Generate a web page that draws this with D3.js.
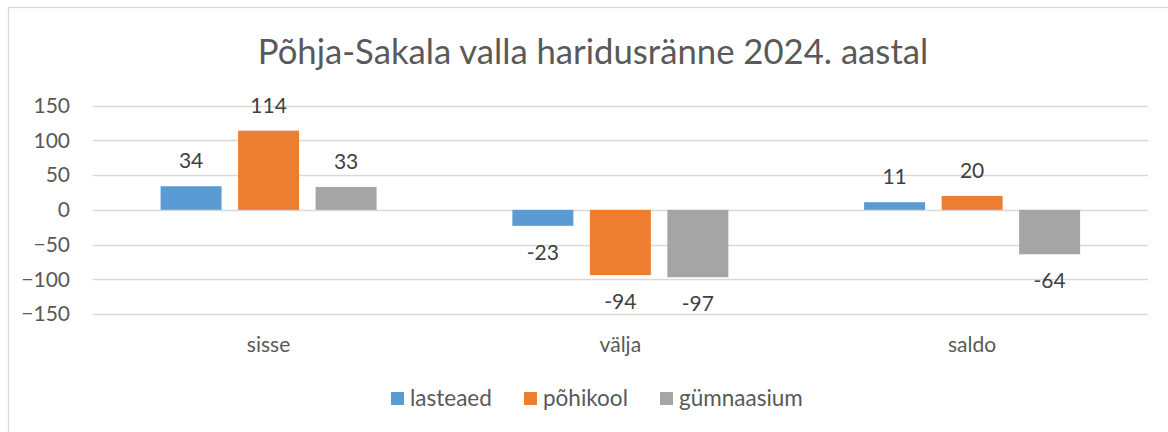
<!DOCTYPE html>
<html>
<head>
<meta charset="utf-8">
<script src="https://cdn.jsdelivr.net/npm/d3@7"></script>
<style>
  html, body { margin: 0; padding: 0; background: #fff; }
  svg { display: block; font-family: Lato, "Noto Sans", sans-serif; }
</style>
</head>
<body>
<div id="chart"></div>
<script>
  // andmed
  const categories = ["sisse", "välja", "saldo"];
  const series = ["lasteaed", "põhikool", "gümnaasium"];
  const lasteaed = [34, -23, 11];
  const pohikool = [114, -94, 20];
  const gymnaasium = [33, -97, -64];
  const yTicks = [150, 100, 50, 0, -50, -100, -150];
  const colors = ["#5B9BD5", "#ED7D31", "#A5A5A5"];
  const title = "Põhja-Sakala valla haridusränne 2024. aastal";

  const values = [lasteaed, pohikool, gymnaasium];
  const rows = categories.map((c, i) => ({
    cat: c,
    vals: series.map((s, j) => ({ s, v: values[j][i], color: colors[j] }))
  }));

  const W = 1168, H = 432;
  const textCol = "#595959";

  const svg = d3.select("#chart").append("svg")
    .attr("width", W).attr("height", H);

  // raam
  svg.append("rect")
    .attr("x", 8.5).attr("y", 7.5)
    .attr("width", W).attr("height", H)
    .attr("fill", "#fff").attr("stroke", "#D9D9D9").attr("stroke-width", 1.3);

  svg.append("text")
    .attr("x", 593).attr("y", 64)
    .attr("text-anchor", "middle")
    .attr("fill", textCol)
    .style("font-size", "34.7px")
    .text(title);

  const y = d3.scaleLinear().domain([-150, 150]).range([314, 105.7]);
  const x0 = d3.scaleBand().domain(categories).range([92.7, 1148]);
  const bw = x0.bandwidth();
  const groupW = bw * 0.614;
  const x1 = d3.scaleBand().domain(series)
    .range([(bw - groupW) / 2, (bw + groupW) / 2])
    .paddingInner(0.213);

  // ruudustik
  svg.append("g").selectAll("line")
    .data(yTicks).join("line")
    .attr("x1", 92.7).attr("x2", 1148)
    .attr("y1", d => Math.round(y(d)) + 0.5).attr("y2", d => Math.round(y(d)) + 0.5)
    .attr("stroke", "#D9D9D9").attr("stroke-width", 1.3);

  // y-telg
  const yAxis = svg.append("g")
    .attr("transform", "translate(70,0)")
    .call(d3.axisLeft(y).tickValues(yTicks).tickSize(0).tickPadding(0));
  yAxis.select(".domain").remove();
  yAxis.selectAll("text")
    .attr("fill", textCol)
    .style("font-family", "Lato, 'Noto Sans', sans-serif")
    .style("font-size", "21px");

  // x-telje sildid
  svg.append("g").selectAll("text")
    .data(categories).join("text")
    .attr("x", d => x0(d) + bw / 2)
    .attr("y", 352)
    .attr("text-anchor", "middle")
    .attr("fill", textCol)
    .style("font-size", "21px")
    .text(d => d);

  const groups = svg.append("g").selectAll("g")
    .data(rows).join("g")
    .attr("transform", d => `translate(${x0(d.cat)},0)`);

  groups.selectAll("rect")
    .data(d => d.vals).join("rect")
    .attr("x", d => x1(d.s))
    .attr("width", x1.bandwidth())
    .attr("y", d => y(Math.max(0, d.v)))
    .attr("height", d => Math.abs(y(d.v) - y(0)))
    .attr("fill", d => d.color);

  groups.selectAll("text")
    .data(d => d.vals).join("text")
    .attr("x", d => x1(d.s) + x1.bandwidth() / 2)
    .attr("y", d => d.v >= 0 ? y(d.v) - 18 : y(d.v) + 34)
    .attr("text-anchor", "middle")
    .attr("fill", "#404040")
    .style("font-size", "21px")
    .text(d => d.v);

  // legend
  const legendX = [391, 524, 660];
  const leg = svg.append("g").selectAll("g")
    .data(series).join("g")
    .attr("transform", (d, i) => `translate(${legendX[i]},392)`);
  leg.append("rect")
    .attr("width", 13).attr("height", 13)
    .attr("fill", (d, i) => colors[i]);
  leg.append("text")
    .attr("x", 19).attr("y", 13.5)
    .attr("fill", textCol)
    .style("font-size", "22.5px")
    .text(d => d);
</script>
</body>
</html>
